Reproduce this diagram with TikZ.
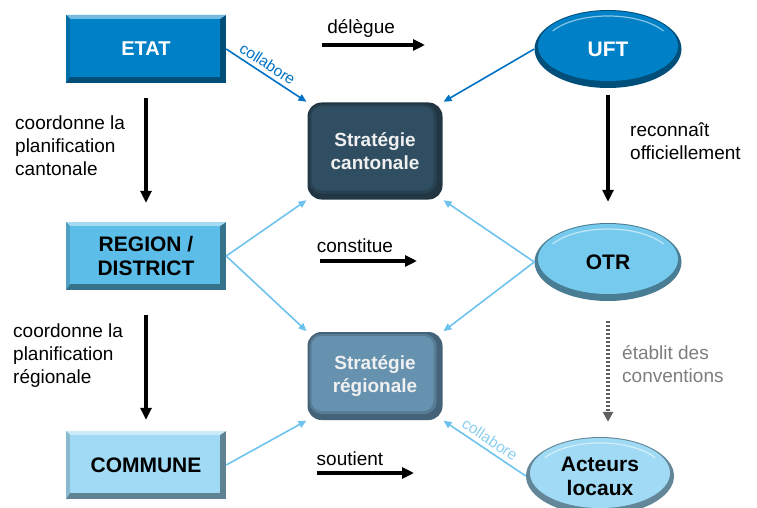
\documentclass[tikz,border=0pt]{standalone}
\usepackage{fontspec}
\setmainfont{Liberation Sans}
\usetikzlibrary{shapes.geometric, positioning, arrows.meta}

\definecolor{etatblue}{RGB}{0,128,198}
\definecolor{regionblue}{RGB}{92,190,232}
\definecolor{otrblue}{RGB}{118,202,238}
\definecolor{communeblue}{RGB}{160,218,245}
\definecolor{cantcol}{RGB}{48,78,98}
\definecolor{regcol}{RGB}{102,146,176}
\definecolor{linkdark}{RGB}{0,114,198}
\definecolor{linklight}{RGB}{110,195,238}
\definecolor{dotgrey}{RGB}{95,95,95}
\definecolor{labelgrey}{RGB}{125,125,125}

\begin{document}
\begin{tikzpicture}[x=1pt, y=1pt, >={Triangle[length=12pt,width=11pt]},
    box/.style={rectangle, minimum width=160pt, minimum height=68pt, align=center,
        font=\bfseries\fontsize{21}{24}\selectfont, fill=#1!60!black,
        path picture={
            \fill[#1!55!white] (path picture bounding box.north west) -- (path picture bounding box.north east)
                -- ([shift={(-6pt,-4pt)}]path picture bounding box.north east)
                -- ([shift={(4pt,-4pt)}]path picture bounding box.north west) -- cycle;
            \fill[#1!85!black] (path picture bounding box.north west) -- ([shift={(4pt,-4pt)}]path picture bounding box.north west)
                -- ([shift={(4pt,6pt)}]path picture bounding box.south west) -- (path picture bounding box.south west) -- cycle;
            \fill[#1] ([shift={(4pt,-4pt)}]path picture bounding box.north west) rectangle ([shift={(-6pt,6pt)}]path picture bounding box.south east);
        }},
    strat/.style={rectangle, rounded corners=14pt, minimum width=135pt, align=center, text=white!94!black,
        font=\bfseries\fontsize{19}{23}\selectfont, fill=#1!68!black,
        path picture={
            \fill[#1!85!black, rounded corners=12pt] ([shift={(2pt,-2pt)}]path picture bounding box.north west) rectangle ([shift={(-6pt,6pt)}]path picture bounding box.south east);
            \fill[#1, rounded corners=10pt] ([shift={(4pt,-4pt)}]path picture bounding box.north west) rectangle ([shift={(-9pt,9pt)}]path picture bounding box.south east);
        }},
    oval/.style={ellipse, minimum width=147pt, minimum height=78pt, inner sep=1pt, align=center,
        font=\bfseries\fontsize{21}{24}\selectfont, fill=#1!62!black,
        path picture={
            \fill[#1] ([yshift=3pt]path picture bounding box.center) ellipse (70pt and 35pt);
            \draw[#1!45!white, line width=1.2pt] ([shift={(-55.4pt,18pt)}]path picture bounding box.center)
                arc[start angle=150, end angle=30, x radius=64pt, y radius=30pt];
        }},
    flow/.style={->, line width=3.2pt},
    darklink/.style={-{Triangle[length=8pt,width=7pt]}, linkdark, line width=1.6pt, shorten >=1pt},
    lightlink/.style={-{Triangle[length=8pt,width=7pt]}, linklight, line width=1.6pt, shorten >=1pt},
    lbl/.style={align=left, inner sep=0pt, font=\fontsize{19}{23}\selectfont},
    small/.style={font=\fontsize{15.5}{17}\selectfont, inner sep=4pt}]

    \useasboundingbox (0,0) rectangle (757,-508);

    % left column
    \node[box=etatblue, text=white, font=\bfseries\fontsize{20}{24}\selectfont] (etat) at (146,-49) {ETAT};
    \node[box=regionblue] (region) [below of=etat, node distance=207pt] {REGION /\\DISTRICT};
    \node[box=communeblue] (commune) [below of=region, node distance=209pt] {COMMUNE};

    % centre
    \node[strat=cantcol, minimum height=97pt] (cant) at (375,-151) {Stratégie\\cantonale};
    \node[strat=regcol, minimum height=88pt] (reg) [below of=cant, node distance=225pt] {Stratégie\\régionale};

    % right column
    \node[oval=etatblue, text=white] (uft) at (608,-49) {UFT};
    \node[oval=otrblue] (otr) [below of=uft, node distance=213pt] {OTR};
    \node[oval=communeblue, minimum width=148pt] (acteurs) at (600,-476) {Acteurs\\locaux};

    % free arrows
    \coordinate (delA) at (322,-45);
    \coordinate (delB) at (425,-45);
    \coordinate (conA) at (320,-261);
    \coordinate (conB) at (417,-261);
    \coordinate (souA) at (317,-473);
    \coordinate (souB) at (414,-473);
    \draw[flow] (delA) -- node[pos=0.38, above=6pt, lbl] (delegue) {délègue} (delB);
    \draw[flow] (conA) -- node[pos=0.36, above=7pt, lbl] (constitue) {constitue} (conB);
    \draw[flow] (souA) -- node[pos=0.34, above=6pt, lbl] (soutient) {soutient} (souB);

    % hierarchy
    \draw[flow, shorten <=15pt, shorten >=19pt] (etat) -- (region);
    \draw[flow, shorten <=25pt, shorten >=11pt] (region) -- (commune);
    \draw[flow, shorten <=7pt, shorten >=21pt] (uft) -- (otr);
    \draw[->, dotgrey, line width=3.4pt, dash pattern=on 2.2pt off 1.8pt, shorten <=20pt, shorten >=15pt,
        >={Triangle[length=10pt,width=10pt]}] (otr.south) -- (otr.south |- acteurs.north);

    \node[lbl, anchor=west] (cantlbl) at (15,-146) {coordonne la\\planification\\cantonale};
    \node[lbl, anchor=west] (reglbl) at (13,-356) {coordonne la\\planification\\régionale};
    \node[lbl, anchor=west] (uftlbl) at (630,-141) {reconnaît\\officiellement};
    \node[lbl, anchor=west, text=labelgrey] (otrlbl) at (622,-364) {établit des\\conventions};

    % links to the strategies
    \draw[darklink] (etat.east) -- node[pos=0.44, sloped, above, small, text=linkdark] (collab) {collabore} (cant.north west);
    \draw[darklink] (uft.west) -- (cant.north east);
    \draw[lightlink] (region.east) -- (cant.south west);
    \draw[lightlink] (region.east) -- (reg.north west);
    \draw[lightlink] (otr.west) -- (cant.south east);
    \draw[lightlink] (otr.west) -- (reg.north east);
    \draw[lightlink] (commune.east) -- (reg.south west);
    \draw[lightlink] (acteurs.west) -- node[sloped, above, small, text=linklight!80!white] (collabtwo) {collabore} (reg.south east);
\end{tikzpicture}
\end{document}
